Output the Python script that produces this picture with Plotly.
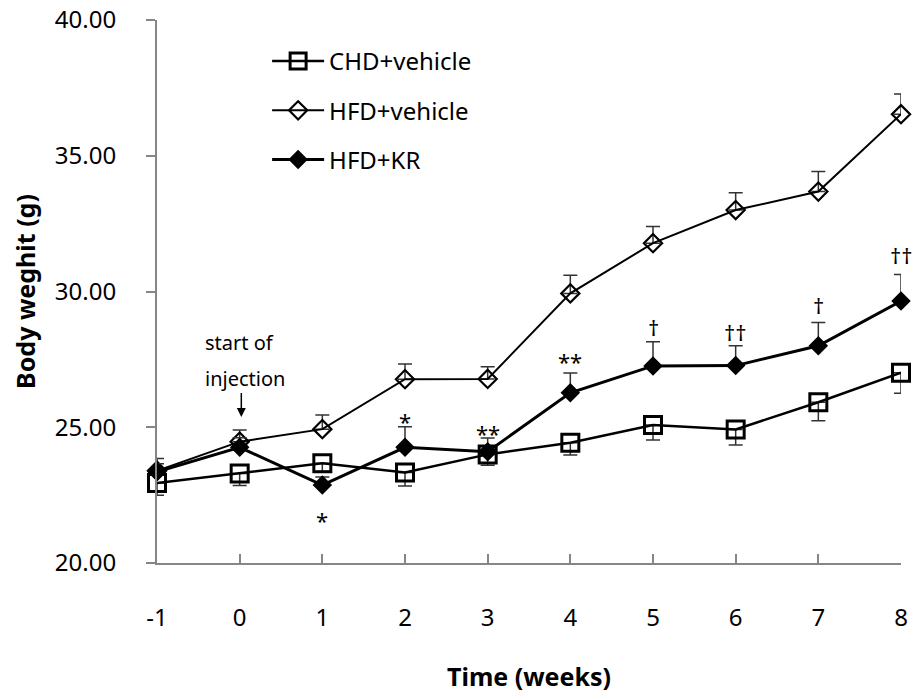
import plotly.graph_objects as go

weeks = [-1, 0, 1, 2, 3, 4, 5, 6, 7, 8]
week_labels = ["-1", "0", "1", "2", "3", "4", "5", "6", "7", "8"]

chd_vehicle = [22.95, 23.30, 23.67, 23.33, 24.00, 24.43, 25.08, 24.92, 25.92, 27.01]
chd_vehicle_err = [0.45, 0.45, 0.30, 0.49, 0.40, 0.45, 0.55, 0.57, 0.68, 0.76]

hfd_vehicle = [23.40, 24.47, 24.93, 26.77, 26.78, 29.93, 31.78, 33.00, 33.68, 36.53]
hfd_vehicle_err = [0.45, 0.43, 0.52, 0.56, 0.45, 0.67, 0.61, 0.64, 0.74, 0.74]

hfd_kr = [23.36, 24.26, 22.87, 24.26, 24.10, 26.27, 27.26, 27.27, 28.00, 29.65]
hfd_kr_err = [0.30, 0.35, 0.30, 0.76, 0.50, 0.73, 0.89, 0.73, 0.86, 0.98]

sig_weeks = [1, 2, 3, 4, 5, 6, 7, 8]
sig_marks = ["*", "*", "**", "**", "†", "††", "†", "††"]
sig_label_y = [21.60, 25.23, 24.80, 27.44, 28.69, 28.51, 29.50, 31.34]

note_lines = ["start of", "injection"]
note_line_y = [28.14, 26.81]

FONT = "Noto Sans"
zeros = [0] * len(weeks)

fig = go.Figure()

fig.add_trace(go.Scatter(
    x=weeks, y=chd_vehicle, name="CHD+vehicle", mode="lines+markers",
    line=dict(color="black", width=2.5),
    marker=dict(symbol="square-open", size=17, color="black", line=dict(width=3, color="black")),
    error_y=dict(type="data", symmetric=False, array=zeros, arrayminus=chd_vehicle_err,
                 color="#333333", thickness=1.5, width=7),
    cliponaxis=False, legendgroup="a",
))
fig.add_trace(go.Scatter(
    x=weeks, y=hfd_vehicle, name="HFD+vehicle", mode="lines+markers",
    line=dict(color="black", width=2),
    marker=dict(symbol="diamond-open", size=14, color="black", line=dict(width=2.2, color="black")),
    error_y=dict(type="data", symmetric=False, array=hfd_vehicle_err, arrayminus=zeros,
                 color="#333333", thickness=1.5, width=7),
    cliponaxis=False, legendgroup="b",
))
fig.add_trace(go.Scatter(
    x=weeks, y=hfd_kr, name="HFD+KR", mode="lines+markers",
    line=dict(color="black", width=3),
    marker=dict(symbol="diamond", size=15, color="black", line=dict(width=0)),
    error_y=dict(type="data", symmetric=False, array=hfd_kr_err, arrayminus=zeros,
                 color="#333333", thickness=1.5, width=7),
    cliponaxis=False, legendgroup="c",
))

for wk, mark, yv in zip(sig_weeks, sig_marks, sig_label_y):
    fig.add_annotation(x=wk, y=yv, text=mark, showarrow=False,
                       font=dict(family=FONT, size=22, color="black"))

for txt, yv in zip(note_lines, note_line_y):
    fig.add_annotation(x=-0.44, y=yv, xref="x", yref="y", text=txt,
                       showarrow=False, xanchor="left", align="left",
                       font=dict(family=FONT, size=20, color="black"))
fig.add_annotation(x=0.02, y=25.38, ax=0.02, ay=26.32, xref="x", yref="y",
                   axref="x", ayref="y", text="", showarrow=True,
                   arrowhead=2, arrowsize=1.2, arrowwidth=1.5, arrowcolor="black")

fig.update_layout(
    width=917, height=693,
    margin=dict(l=157, r=16, t=20, b=130, autoexpand=False),
    paper_bgcolor="white", plot_bgcolor="white",
    font=dict(family=FONT, size=24, color="black"),
    showlegend=True,
    legend=dict(x=0.148, y=0.965, xanchor="left", yanchor="top",
                bgcolor="rgba(0,0,0,0)", font=dict(family=FONT, size=24, color="black"),
                itemwidth=52, tracegroupgap=15, traceorder="grouped"),
    xaxis=dict(range=[-1, 8], tickmode="array", tickvals=weeks, ticktext=week_labels,
               automargin=False,
               showgrid=False, zeroline=False, showline=True, linecolor="#868686", linewidth=2,
               ticks="inside", ticklen=9, tickcolor="#868686", tickwidth=1.5,
               ticklabelstandoff=32,
               tickfont=dict(family=FONT, size=24, color="black"),
               title=dict(text="<b>Time (weeks)</b>", standoff=44,
                          font=dict(family=FONT, size=25, color="black"))),
    yaxis=dict(range=[20, 40], dtick=5, tick0=20, tickformat=".2f",
               automargin=False,
               showgrid=False, zeroline=False, showline=True, linecolor="#868686", linewidth=2,
               ticks="outside", ticklen=9, tickcolor="#868686", tickwidth=1.5,
               ticklabelstandoff=25,
               tickfont=dict(family=FONT, size=24, color="black"),
               title=dict(text="<b>Body weghit (g)</b>", standoff=12,
                          font=dict(family=FONT, size=25, color="black"))),
)

fig.write_html("out.html")
